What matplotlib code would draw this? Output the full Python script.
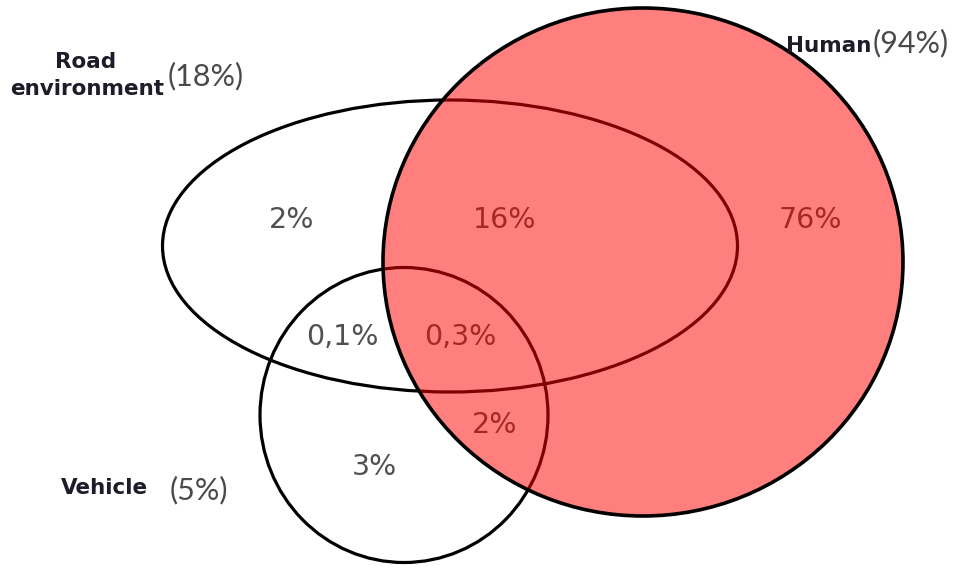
import matplotlib
matplotlib.use("Agg")
import matplotlib.pyplot as plt
from matplotlib.patches import Ellipse

# ---- data ----
set_names = ["Road\nenvironment", "Human", "Vehicle"]
set_totals = ["(18%)", "(94%)", "(5%)"]
region_labels = ["2%", "16%", "76%", "0,1%", "0,3%", "2%", "3%"]

# ---- layout (pixel coordinates) ----
W, H = 969, 583
fig = plt.figure(figsize=(W / 100, H / 100), dpi=100)
ax = fig.add_axes([0, 0, 1, 1])
ax.set_xlim(0, W)
ax.set_ylim(H, 0)
ax.set_aspect("equal")
ax.axis("off")

road = dict(xy=(450, 246), width=575, height=292)
human = dict(xy=(643, 262), width=520, height=508)
vehicle = dict(xy=(404, 415), width=288, height=295)

ax.add_patch(Ellipse(**road, fill=False, edgecolor="black", lw=2.3, zorder=2))
ax.add_patch(Ellipse(**vehicle, fill=False, edgecolor="black", lw=2.3, zorder=2))

region_pos = [(292, 220), (505, 220), (810, 220), (342, 337), (460, 337), (495, 425), (375, 467)]
for lab, (x, y) in zip(region_labels, region_pos):
    ax.text(x, y, lab, ha="center", va="center", fontsize=20.5, color="#505050",
            family=["DejaVu Sans"], zorder=3)

# red overlay for Human
ax.add_patch(Ellipse(**human, facecolor=(1, 0, 0, 0.5), edgecolor="none", zorder=4))
ax.add_patch(Ellipse(**human, fill=False, edgecolor="black", lw=2.6, zorder=5))

bold_col = "#1c1c2a"
par_col = "#4a4a4a"
narrow = ["Lato", "DejaVu Sans"]
bsize = 15.5

# Road environment
road_lines = set_names[0].split("\n")
ax.text(86, 62, road_lines[0], ha="center", va="center", fontsize=bsize, fontweight="bold",
        color=bold_col, zorder=6)
ax.text(87, 89, road_lines[1], ha="center", va="center", fontsize=bsize, fontweight="bold",
        color=bold_col, zorder=6)
ax.text(168, 76, set_totals[0], ha="left", va="center", fontsize=22, color=par_col,
        family=narrow, zorder=6)

# Human
ax.text(871, 46, set_names[1], ha="right", va="center", fontsize=bsize, fontweight="bold",
        color=bold_col, zorder=6)
ax.text(873, 43, set_totals[1], ha="left", va="center", fontsize=22, color=par_col,
        family=narrow, zorder=6)

# Vehicle
ax.text(104, 488, set_names[2], ha="center", va="center", fontsize=bsize, fontweight="bold",
        color=bold_col, zorder=6)
ax.text(170, 490, set_totals[2], ha="left", va="center", fontsize=22, color=par_col,
        family=narrow, zorder=6)

fig.savefig("out.png", dpi=100, facecolor="white")
